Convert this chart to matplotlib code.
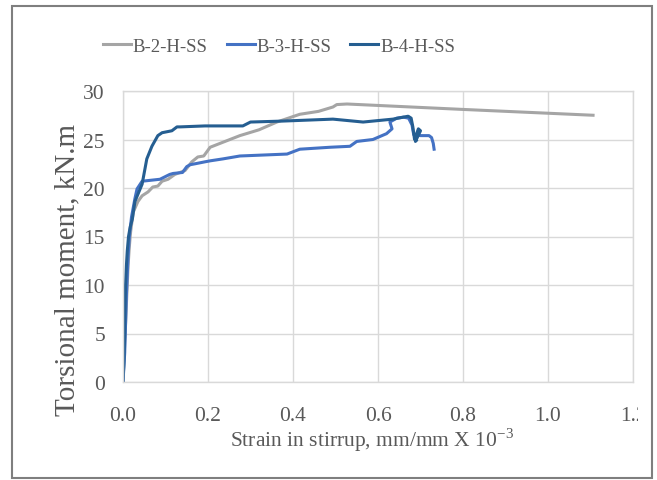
import matplotlib
matplotlib.use('Agg')
import matplotlib.pyplot as plt
from matplotlib.patches import Rectangle
from matplotlib.transforms import Bbox

plt.rcParams['font.family'] = ['Liberation Serif', 'DejaVu Serif']
plt.rcParams['mathtext.fontset'] = 'custom'
plt.rcParams['mathtext.rm'] = 'Liberation Serif'

# B-2-H-SS (gray)
b2_x = [0, 0.003, 0.006, 0.008, 0.010, 0.012, 0.015, 0.018, 0.024, 0.035, 0.045, 0.059, 0.070,
        0.082, 0.092, 0.106, 0.122, 0.146, 0.162, 0.176, 0.19, 0.205, 0.24, 0.275, 0.32, 0.362,
        0.416, 0.46, 0.494, 0.503, 0.527, 0.80, 1.106]
b2_y = [0, 3, 6, 8, 10, 12, 14, 15.5, 17.5, 18.6, 19.2, 19.6, 20.1,
        20.2, 20.7, 20.9, 21.4, 21.8, 22.7, 23.2, 23.3, 24.2, 24.8, 25.4, 26.0, 26.8,
        27.6, 27.9, 28.35, 28.6, 28.66, 28.1, 27.5]

# B-3-H-SS (light blue)
b3_x = [0, 0.004, 0.006, 0.008, 0.010, 0.012, 0.015, 0.020, 0.028, 0.033, 0.045, 0.087, 0.11,
        0.118, 0.14, 0.15, 0.158, 0.17, 0.193, 0.205, 0.235, 0.275, 0.386, 0.416, 0.487, 0.534,
        0.55, 0.588, 0.62, 0.633, 0.628, 0.644, 0.66, 0.672, 0.68, 0.684, 0.70, 0.72, 0.726,
        0.73, 0.732]
b3_y = [0, 3, 6, 9, 11, 13, 15, 17, 18.9, 19.9, 20.7, 20.9, 21.4,
        21.5, 21.6, 22.2, 22.4, 22.5, 22.7, 22.8, 23.0, 23.3, 23.5, 24.0, 24.2, 24.3,
        24.8, 25.0, 25.6, 26.1, 26.8, 27.2, 27.3, 27.2, 26.5, 25.5, 25.4, 25.4, 25.2,
        24.6, 24.0]

# B-4-H-SS (dark blue)
b4_x = [0, 0.002, 0.004, 0.005, 0.006, 0.008, 0.010, 0.013, 0.017, 0.022, 0.028, 0.045, 0.056,
        0.068, 0.082, 0.092, 0.115, 0.127, 0.134, 0.193, 0.282, 0.30, 0.376, 0.494, 0.565,
        0.635, 0.671, 0.678, 0.682, 0.686, 0.695, 0.70, 0.688, 0.69]
b4_y = [0, 2, 5, 8, 10, 12, 13.5, 15, 16, 16.8, 18.6, 20.4, 23.0,
        24.3, 25.4, 25.7, 25.9, 26.3, 26.3, 26.4, 26.4, 26.8, 26.9, 27.1, 26.8,
        27.1, 27.4, 27.2, 26.3, 25.0, 26.1, 25.9, 24.8, 24.9]

x_ticks = [0.0, 0.2, 0.4, 0.6, 0.8, 1.0, 1.2]
y_ticks = [0, 5, 10, 15, 20, 25, 30]

txt = '#595959'
grid = '#D9D9D9'

fig = plt.figure(figsize=(6.57, 4.81), dpi=100)
ax = fig.add_axes([123/657, 1 - 383/481, 510/657, 291/481])

l2, = ax.plot(b2_x, b2_y, color='#A5A5A5', lw=2.2, label='B-2-H-SS')
l3, = ax.plot(b3_x, b3_y, color='#4472C4', lw=2.2, label='B-3-H-SS')
l4, = ax.plot(b4_x, b4_y, color='#255E91', lw=2.2, label='B-4-H-SS')

ax.set_xlim(0, 1.2)
ax.set_ylim(0, 30)
ax.set_xticks(x_ticks)
ax.set_xticklabels(['%.1f' % v for v in x_ticks])
ax.set_yticks(y_ticks)
ax.grid(True, color=grid, lw=1.0)
ax.set_axisbelow(True)
for s in ax.spines.values():
    s.set_color(grid)
    s.set_linewidth(1.0)
ax.tick_params(length=0, labelsize=15.5, labelcolor=txt)
ax.tick_params(axis='x', pad=17)
ax.tick_params(axis='y', pad=13)

fig.text(67/657, 1 - 270/481, 'Torsional moment, kN.m', rotation=90,
         ha='center', va='center', fontsize=21, color=txt)
fig.text(372/657, 1 - 440/481, r'Strain in stirrup, mm/mm X 10$^{\mathregular{-3}}$',
         ha='center', va='center', fontsize=15.5, color=txt)

leg = fig.legend(handles=[l2, l3, l4], loc='center', bbox_to_anchor=(279/657, 1 - 47/481),
                 ncol=3, frameon=False, fontsize=13.5, handlelength=1.5, handletextpad=0.1,
                 columnspacing=1.0)
for t in leg.get_texts():
    t.set_color(txt)

fig.patches.append(Rectangle((0.12, 0.02), 6.40, 4.72, transform=fig.dpi_scale_trans,
                             fill=False, edgecolor='#7F7F7F', lw=1.5))

# the last tick label is cut off in the original
for lab in ax.get_xticklabels():
    if lab.get_text() == '1.2':
        lab.set_clip_box(Bbox.from_extents(0, 0, 638, 481))
        lab.set_clip_on(True)

fig.savefig('out.png', dpi=100)
